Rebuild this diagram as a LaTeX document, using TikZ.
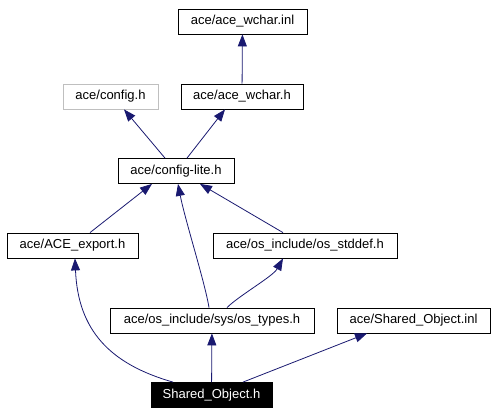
\documentclass[tikz,border=0pt]{standalone}
\usepackage{fontspec}
\setmainfont{Liberation Sans}
\usetikzlibrary{arrows.meta,positioning}
\definecolor{edgeblue}{RGB}{25,25,112}
\definecolor{boxgray}{RGB}{191,191,191}

\begin{document}
\begin{tikzpicture}[x=1pt, y=-1pt, every node/.style={font=\fontsize{13}{15}\selectfont}, box/.style={draw, line width=0.8pt, inner sep=0pt, minimum height=25pt}, inc/.style={draw=edgeblue, line width=0.8pt, -{Triangle[length=12pt, width=9pt]}}]
\useasboundingbox (0,0) rectangle (496,415);
\node[box, minimum width=129pt] (wcharinl) at (242.5,21.5) {ace/ace\_wchar.inl};
\node[box, draw=boxgray, minimum width=95pt] (config) at (110.5,96.5) {ace/config.h};
\node[box, minimum width=122pt] (wchar) at (242,96.5) {ace/ace\_wchar.h};
\node[box, minimum width=116pt] (lite) at (176,171) {ace/config-lite.h};
\node[box, minimum width=131pt] (export) at (72.5,245.5) {ace/ACE\_export.h};
\node[box, minimum width=184pt] (stddef) at (305,245.5) {ace/os\_include/os\_stddef.h};
\node[box, minimum width=204pt] (types) at (212,320.5) {ace/os\_include/sys/os\_types.h};
\node[box, minimum width=153pt] (soinl) at (413.5,320.5) {ace/Shared\_Object.inl};
\node[box, fill=black, text=white, minimum width=121pt] (soh) at (211.5,395) {Shared\_Object.h};
\draw[inc] (wchar) -- (wcharinl);
\draw[inc] ([xshift=-11pt]lite.north) -- ([xshift=13.5pt]config.south);
\draw[inc] ([xshift=11pt]lite.north) -- ([xshift=-17pt]wchar.south);
\draw[inc] ([xshift=17.5pt]export.north) -- ([xshift=-24pt]lite.south);
\draw[inc] ([xshift=-22pt]stddef.north) -- ([xshift=24pt]lite.south);
\draw[inc] ([xshift=-3pt]types.north) .. controls +(-4,-25) and +(7,36) .. ([xshift=2pt]lite.south);
\draw[inc] ([xshift=15pt]types.north) .. controls +(12,-12) and +(-10,18) .. ([xshift=-22pt]stddef.south);
\draw[inc] ([xshift=-38.5pt]soh.north) .. controls +(-63,-18) and +(3,72) .. ([xshift=2.5pt]export.south);
\draw[inc] (soh) -- (types);
\draw[inc] ([xshift=31.5pt]soh.north) -- ([xshift=-46.5pt]soinl.south);
\end{tikzpicture}
\end{document}
